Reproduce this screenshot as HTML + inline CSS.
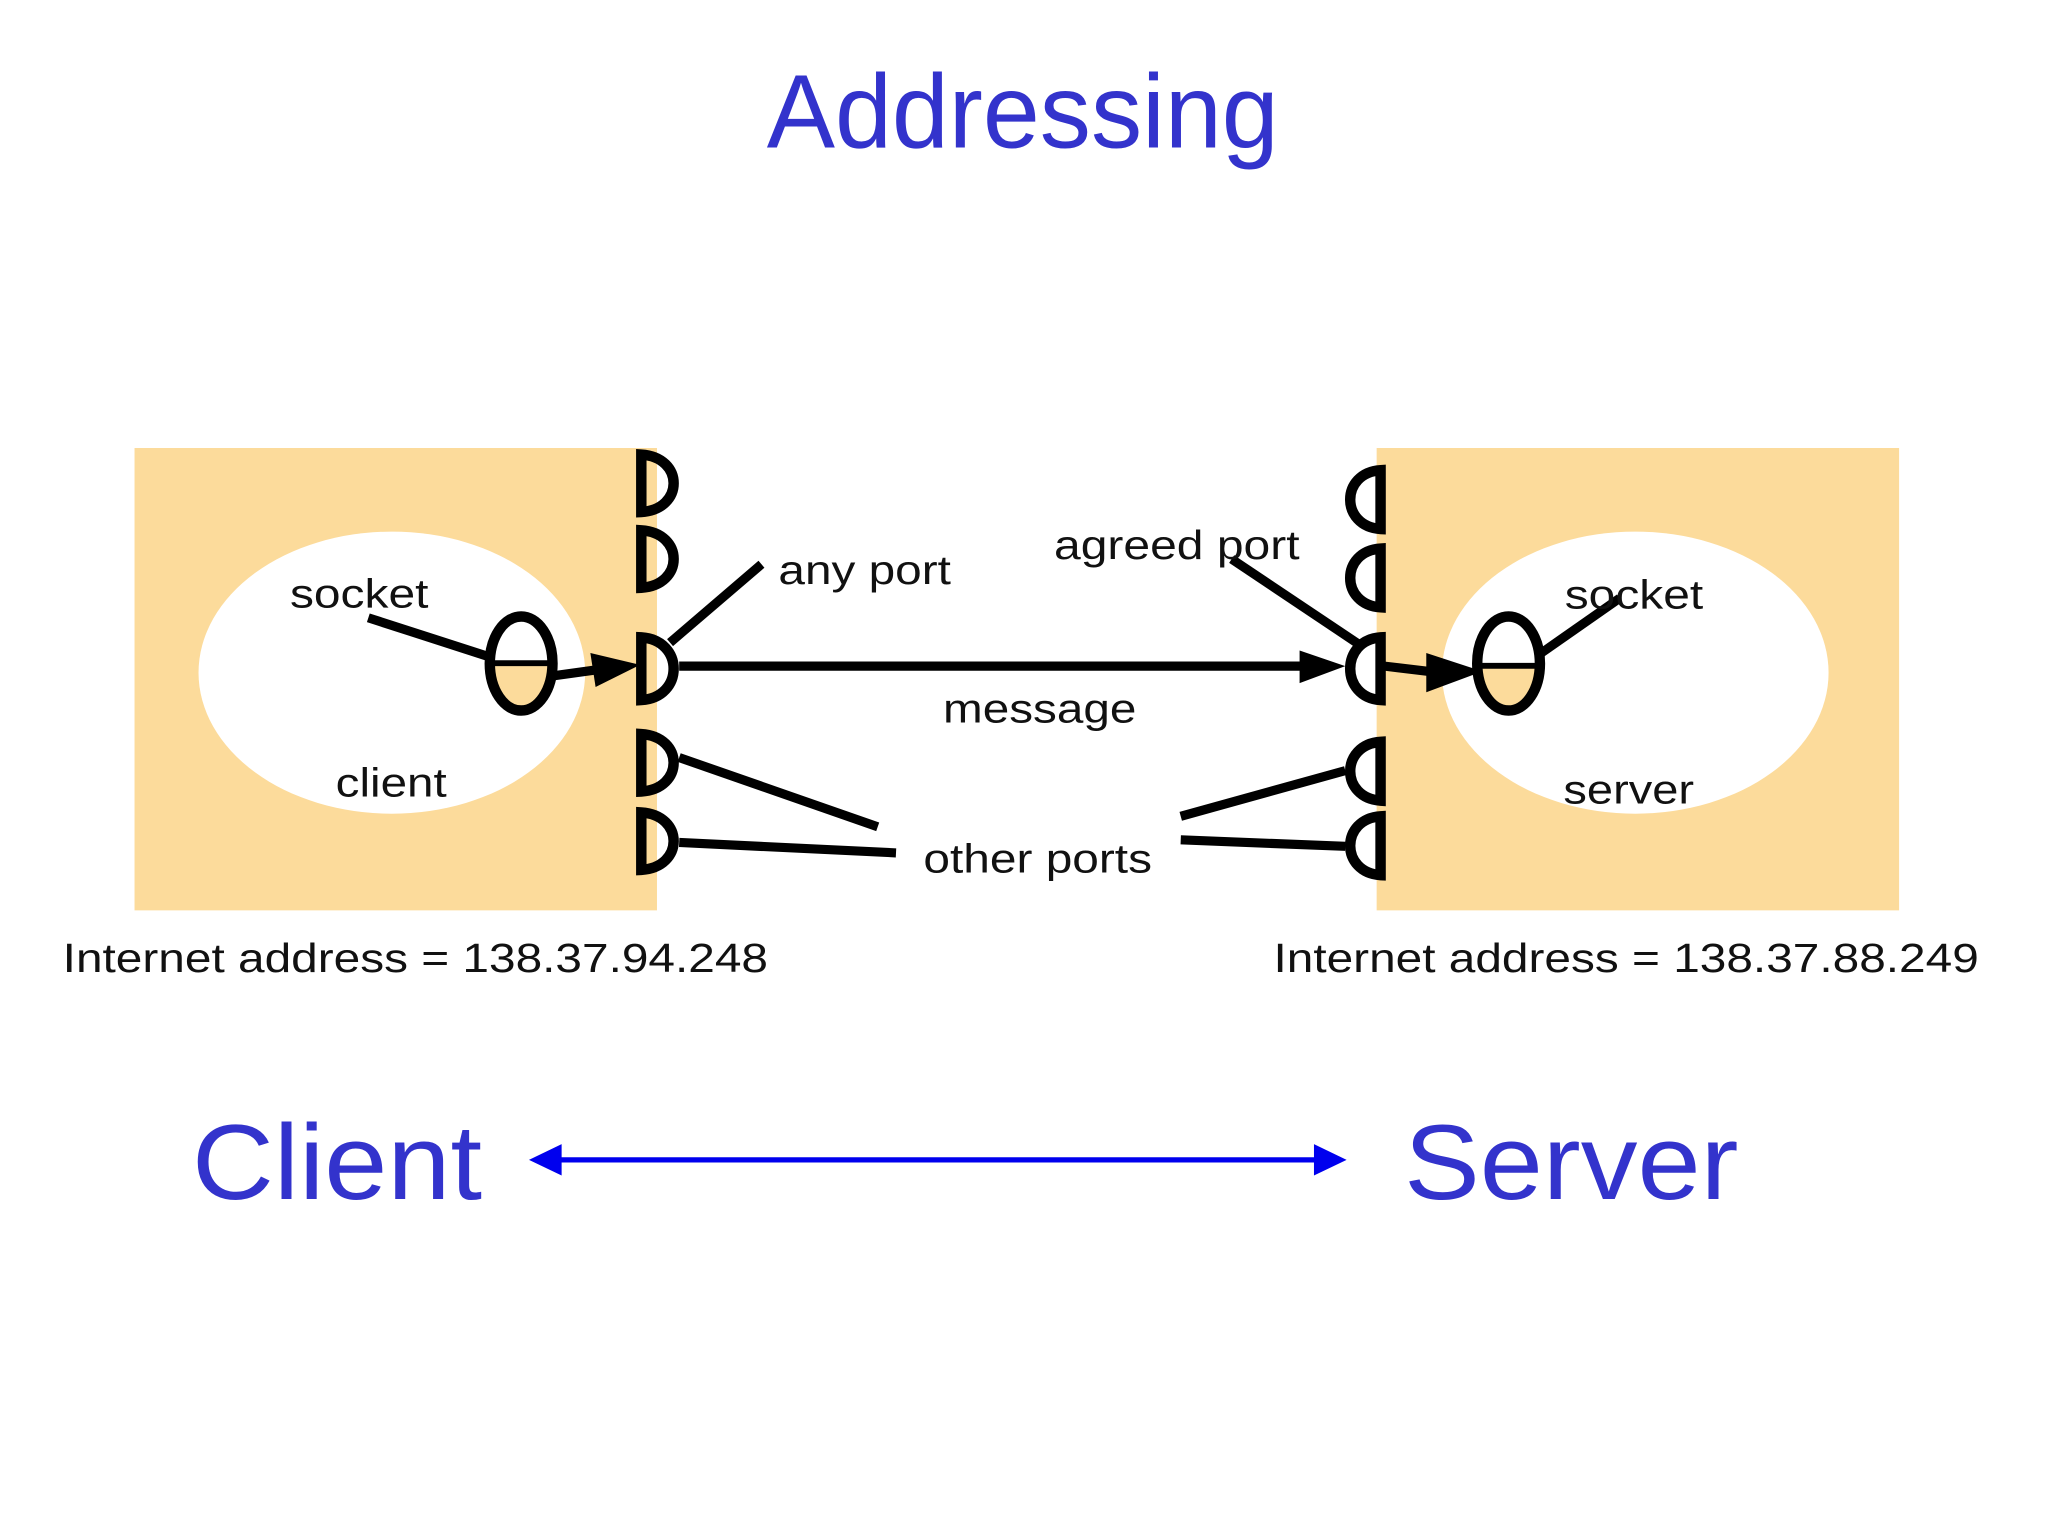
<!DOCTYPE html>
<html><head><meta charset="utf-8"><style>html,body{margin:0;padding:0;background:#fff}svg{display:block}</style></head><body>
<svg width="2048" height="1536" viewBox="0 0 1568 1176" xmlns="http://www.w3.org/2000/svg" font-family="Liberation Sans, sans-serif">
<rect width="1568" height="1176" fill="#fff"/>
<text x="783" y="113" font-size="80" fill="#3333cc" text-anchor="middle" textLength="392" lengthAdjust="spacingAndGlyphs">Addressing</text>
<rect x="103" y="343" width="400" height="354" fill="#fcdb9b"/>
<rect x="1054" y="343" width="400" height="354" fill="#fcdb9b"/>
<ellipse cx="300" cy="515" rx="148" ry="108" fill="#fff"/>
<ellipse cx="1252" cy="515" rx="148" ry="108" fill="#fff"/>
<g fill="none" stroke="#000" stroke-width="8">
<path d="M491 348 C524 350 524 390 491 392 Z"/>
<path d="M491 406 C524 408 524 448 491 450 Z"/>
<path d="M491 488 C524 490 524 534 491 536 Z"/>
<path d="M491 562 C524 564 524 604 491 606 Z"/>
<path d="M491 622 C524 624 524 664 491 666 Z"/>
<path d="M1057 360 C1026 362 1026 403 1057 405 Z"/>
<path d="M1057 420 C1026 422 1026 463 1057 465 Z"/>
<path d="M1057 488 C1026 490 1026 534 1057 536 Z"/>
<path d="M1057 568 C1026 570 1026 611 1057 613 Z"/>
<path d="M1057 625 C1026 627 1026 668 1057 670 Z"/>
</g>
<g fill="none" stroke="#000" stroke-width="7">
<path d="M377 508 h47" stroke-width="5"/>
<path d="M1130 510 h50" stroke-width="5"/>
<line x1="520" y1="510" x2="1010" y2="510"/>
<line x1="405" y1="520" x2="470" y2="511"/>
<line x1="1060" y1="510" x2="1110" y2="516"/>
<line x1="282" y1="473" x2="375" y2="503"/>
<line x1="583" y1="432" x2="513" y2="492"/>
<line x1="943" y1="428" x2="1043" y2="495"/>
<line x1="1240" y1="458" x2="1180" y2="500"/>
<line x1="520" y1="580" x2="672" y2="633"/>
<line x1="520" y1="645" x2="686" y2="653"/>
<line x1="904" y1="625" x2="1030" y2="590"/>
<line x1="904" y1="643" x2="1030" y2="648"/>
</g>
<path d="M378 510 h44 v20 q-10 12 -22 12 q-22 0 -22 -32Z" fill="#fcdb9b"/>
<path d="M1133 512 h44 v18 q-8 12 -22 12 q-22 0 -22 -30Z" fill="#fcdb9b"/>
<ellipse cx="399" cy="508" rx="24" ry="36" fill="none" stroke="#000" stroke-width="8"/>
<ellipse cx="1155" cy="508" rx="24" ry="36" fill="none" stroke="#000" stroke-width="8"/>
<polygon points="452,500 490,509 456,526" fill="#000"/>
<polygon points="995,498 1030,510 995,523" fill="#000"/>
<polygon points="1092,500 1135,514 1092,530" fill="#000"/>
<g font-size="31" fill="#111">
<text x="222" y="465" textLength="106" lengthAdjust="spacingAndGlyphs">socket</text>
<text x="257" y="610" textLength="85" lengthAdjust="spacingAndGlyphs">client</text>
<text x="596" y="447" textLength="132" lengthAdjust="spacingAndGlyphs">any port</text>
<text x="807" y="428" textLength="188" lengthAdjust="spacingAndGlyphs">agreed port</text>
<text x="722" y="553" textLength="148" lengthAdjust="spacingAndGlyphs">message</text>
<text x="707" y="668" textLength="175" lengthAdjust="spacingAndGlyphs">other ports</text>
<text x="1198" y="466" textLength="106" lengthAdjust="spacingAndGlyphs">socket</text>
<text x="1197" y="615" textLength="100" lengthAdjust="spacingAndGlyphs">server</text>
<text x="48" y="744" textLength="540" lengthAdjust="spacingAndGlyphs">Internet address = 138.37.94.248</text>
<text x="975" y="744" textLength="540" lengthAdjust="spacingAndGlyphs">Internet address = 138.37.88.249</text>
</g>
<g font-size="82" fill="#3333cc">
<text x="147" y="918" textLength="222" lengthAdjust="spacingAndGlyphs">Client</text>
<text x="1075" y="918" textLength="256" lengthAdjust="spacingAndGlyphs">Server</text>
</g>
<line x1="420" y1="888" x2="1015" y2="888" stroke="#0000ee" stroke-width="4"/>
<polygon points="405,888 430,876 430,900" fill="#0000ee"/>
<polygon points="1031,888 1006,876 1006,900" fill="#0000ee"/>
</svg>
</body></html>
